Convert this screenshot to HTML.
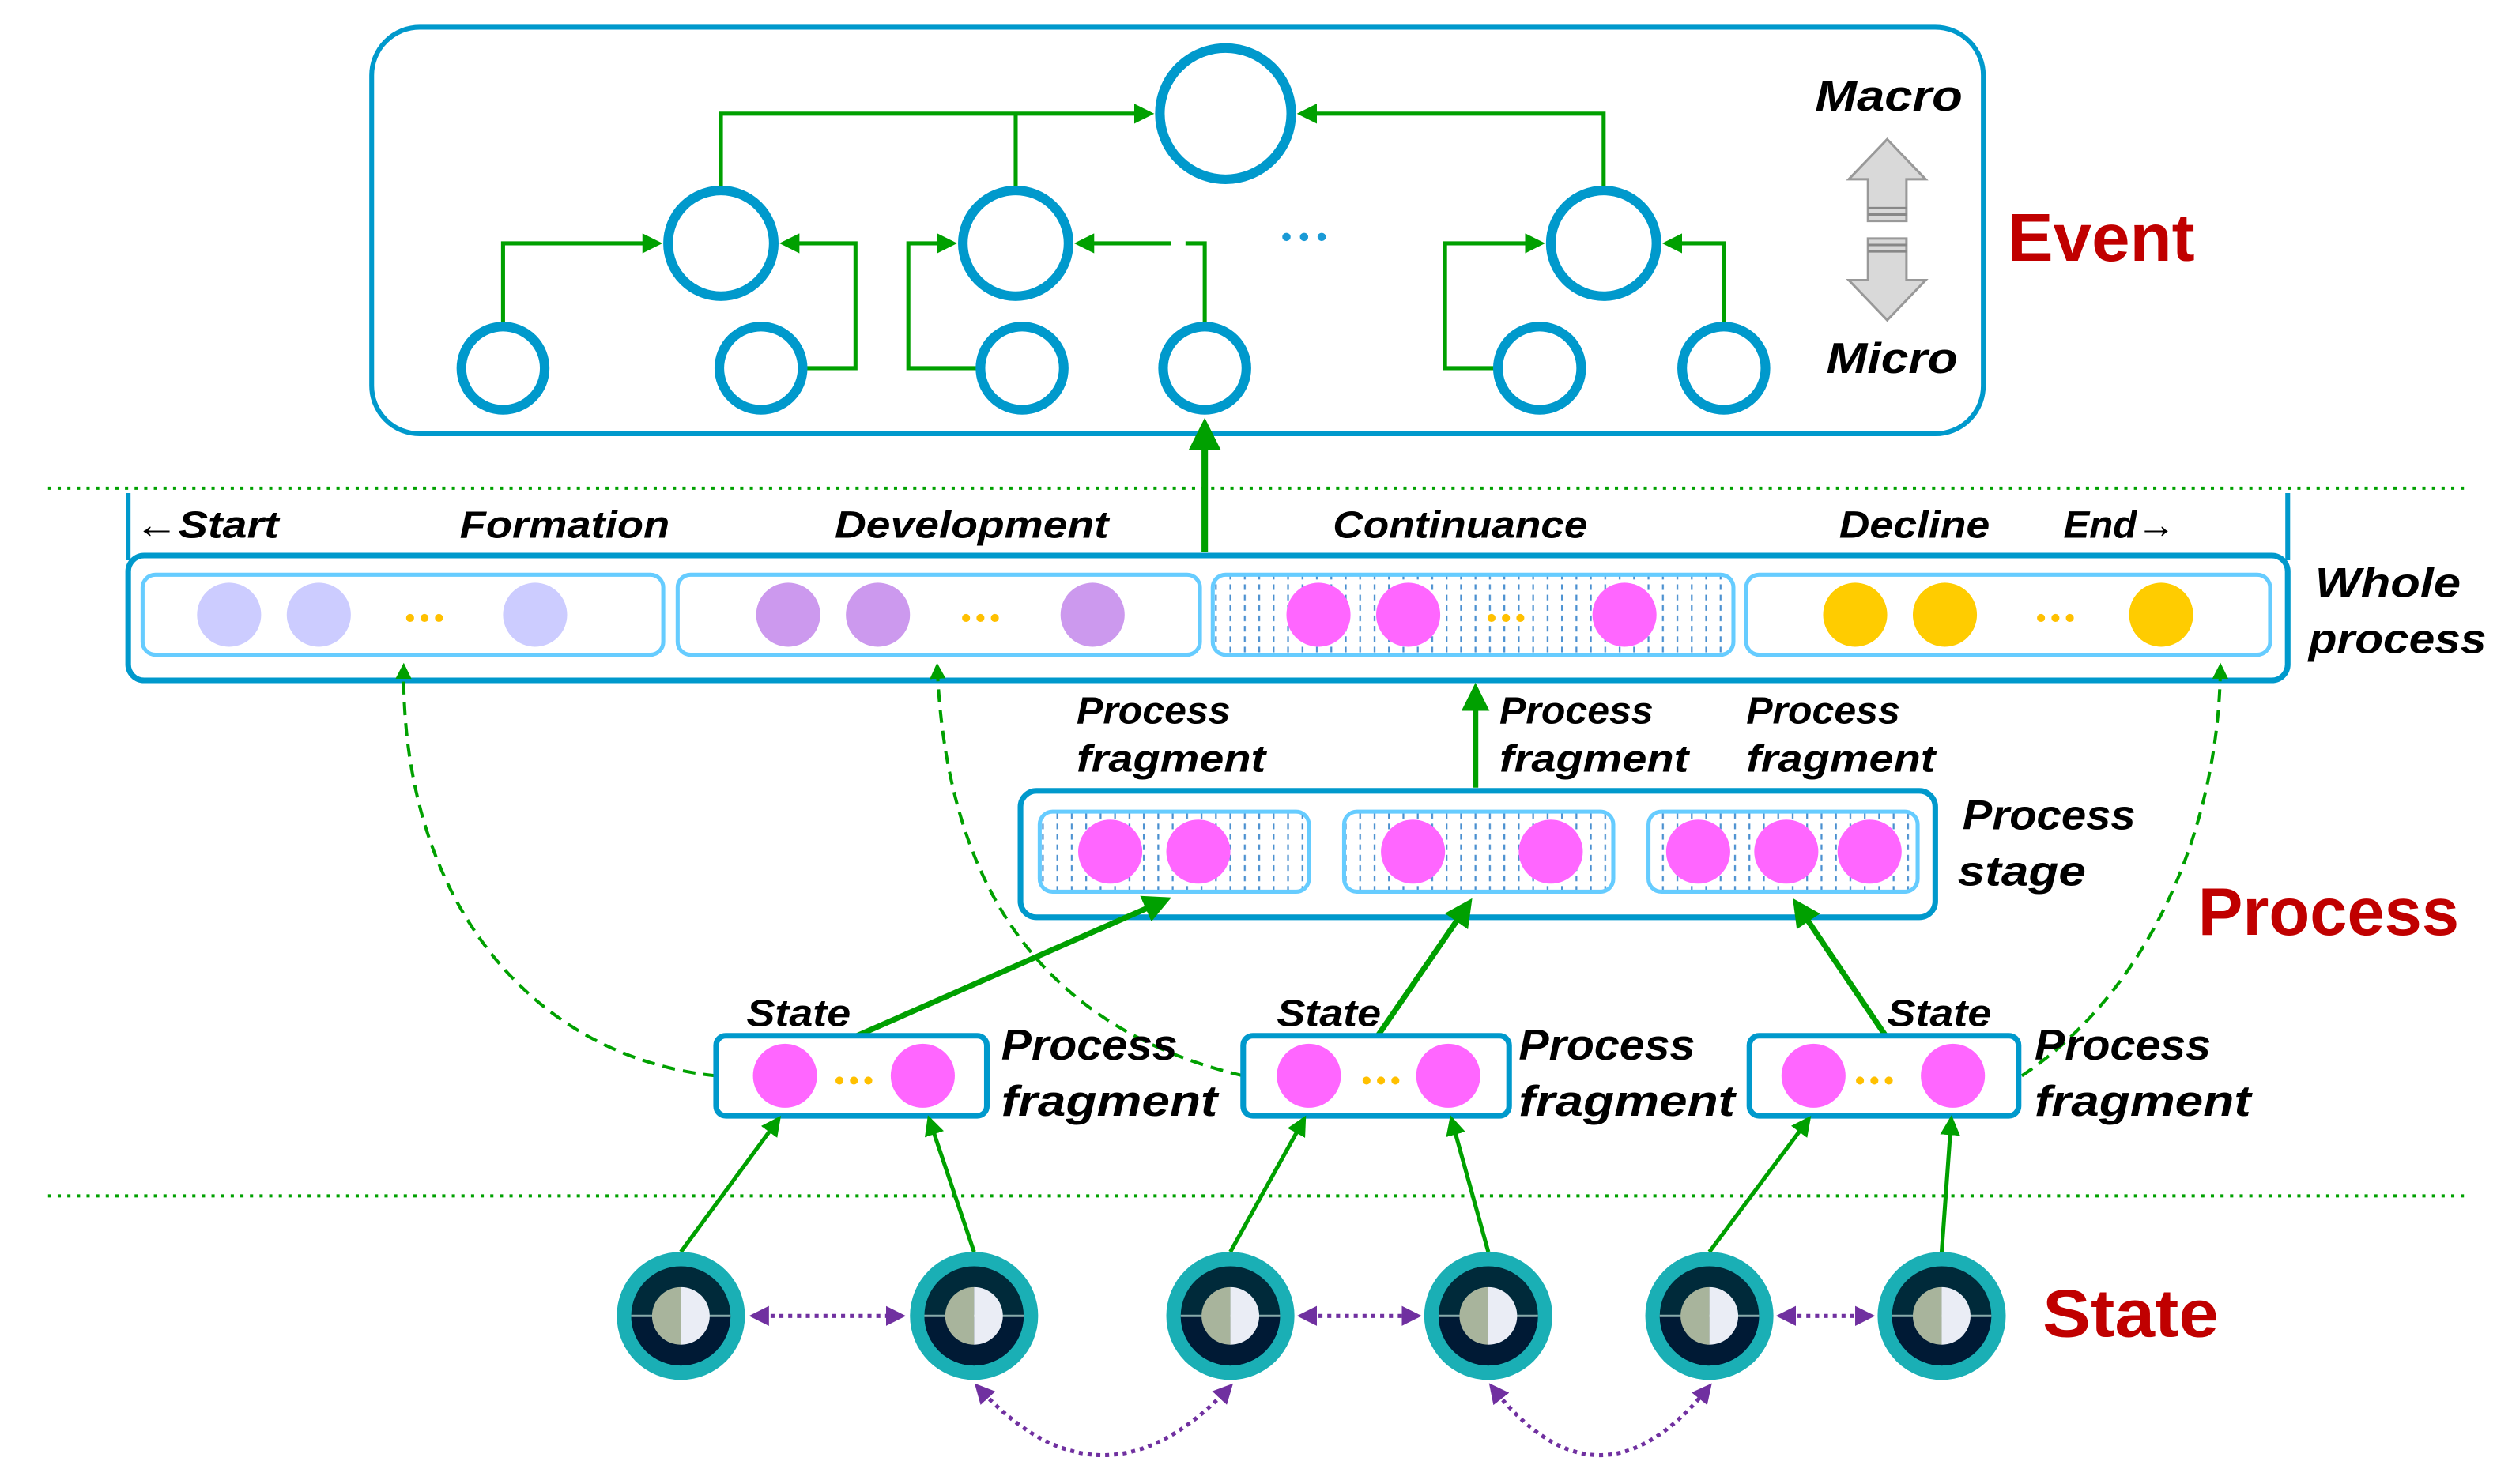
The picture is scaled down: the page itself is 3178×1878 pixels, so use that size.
<!DOCTYPE html>
<html><head><meta charset="utf-8"><style>
html,body{margin:0;padding:0;background:#fff;}
svg{display:block;}
.t{font-family:"Liberation Sans",sans-serif;font-style:italic;font-weight:bold;fill:#000;}
.r{font-family:"Liberation Sans",sans-serif;font-weight:bold;fill:#c00000;}
</style></head><body>
<svg width="3178" height="1878" viewBox="0 0 1568 927" preserveAspectRatio="none" xmlns="http://www.w3.org/2000/svg">
<defs>
<marker id="gb" markerWidth="5" markerHeight="5" refX="4" refY="2.5" orient="auto" markerUnits="strokeWidth"><path d="M0,0 L5,2.5 L0,5 z" fill="#00a000"/></marker>
<marker id="pa" markerWidth="5" markerHeight="5" refX="4" refY="2.5" orient="auto" markerUnits="strokeWidth"><path d="M0,0 L5,2.5 L0,5 z" fill="#7030a0"/></marker>
<marker id="ps" markerWidth="5" markerHeight="5" refX="1" refY="2.5" orient="auto" markerUnits="strokeWidth"><path d="M5,0 L0,2.5 L5,5 z" fill="#7030a0"/></marker>
<pattern id="h" width="9" height="6.5" patternUnits="userSpaceOnUse"><line x1="3" y1="1" x2="3" y2="4.5" stroke="#4a90d0" stroke-width="1.1"/></pattern>
<g id="sc"><circle r="40" fill="#1aafb5"/><circle r="31" fill="#002a3a"/><path d="M-31,0 A31,31 0 0 0 31,0 Z" fill="#001a35"/><line x1="-31" y1="0" x2="31" y2="0" stroke="#8aa" stroke-width="1.5"/><path d="M0,-18 A18,18 0 0 0 0,18 Z" fill="#a8b49c"/><path d="M0,-18 A18,18 0 0 1 0,18 Z" fill="#eaedf5"/></g>
</defs>

<rect x="232" y="17" width="1006" height="254" rx="30" fill="none" stroke="#0099cc" stroke-width="3"/>
<g fill="none" stroke="#00a000" stroke-width="2.5">
<path d="M450,118 V71 H718" marker-end="url(#gb)"/>
<path d="M634,118 V71"/>
<path d="M1001,118 V71 H812" marker-end="url(#gb)"/>
<path d="M314,203 V152 H411" marker-end="url(#gb)"/>
<path d="M502,230 H534 V152 H489" marker-end="url(#gb)"/>
<path d="M611,230 H567 V152 H595" marker-end="url(#gb)"/>
<path d="M752,203 V152 H740 M731,152 H673" marker-end="url(#gb)"/>
<path d="M934,230 H902 V152 H962" marker-end="url(#gb)"/>
<path d="M1076,203 V152 H1040" marker-end="url(#gb)"/>
</g>
<g fill="#fff" stroke="#0099cc" stroke-width="6">
<circle cx="765" cy="71" r="41"/>
<circle cx="450" cy="152" r="33"/><circle cx="634" cy="152" r="33"/><circle cx="1001" cy="152" r="33"/>
<circle cx="314" cy="230" r="26"/><circle cx="475" cy="230" r="26"/><circle cx="638" cy="230" r="26"/><circle cx="752" cy="230" r="26"/><circle cx="961" cy="230" r="26"/><circle cx="1076" cy="230" r="26"/>
</g>
<g fill="#1a9ad6"><circle cx="803" cy="148" r="2.6"/><circle cx="814" cy="148" r="2.6"/><circle cx="825" cy="148" r="2.6"/></g>
<g fill="#d9d9d9" stroke="#999" stroke-width="1.5">
<path d="M1178,87 L1202,112 L1190,112 L1190,138 L1166,138 L1166,112 L1154,112 Z"/>
<path d="M1178,200 L1202,175 L1190,175 L1190,149 L1166,149 L1166,175 L1154,175 Z"/>
</g>
<g stroke="#888" stroke-width="1.5"><line x1="1166" y1="130" x2="1190" y2="130"/><line x1="1166" y1="134" x2="1190" y2="134"/><line x1="1166" y1="153" x2="1190" y2="153"/><line x1="1166" y1="157" x2="1190" y2="157"/></g>
<text class="t" x="1133" y="69" font-size="27" textLength="92" lengthAdjust="spacingAndGlyphs">Macro</text>
<text class="t" x="1140" y="233" font-size="27" textLength="82" lengthAdjust="spacingAndGlyphs">Micro</text>
<text class="r" x="1253" y="163" font-size="42" textLength="117" lengthAdjust="spacingAndGlyphs">Event</text>

<line x1="30" y1="305" x2="1540" y2="305" stroke="#00a000" stroke-width="2" stroke-dasharray="2,4"/>
<line x1="30" y1="747" x2="1540" y2="747" stroke="#00a000" stroke-width="2" stroke-dasharray="2,4"/>

<line x1="752" y1="345" x2="752" y2="265" stroke="#00a000" stroke-width="4" marker-end="url(#gb)"/>
<line x1="80" y1="308" x2="80" y2="350" stroke="#0099cc" stroke-width="3"/>
<line x1="1428" y1="308" x2="1428" y2="350" stroke="#0099cc" stroke-width="3"/>
<rect x="80" y="347" width="1348" height="78" rx="10" fill="none" stroke="#0099cc" stroke-width="3.5"/>
<g class="t" font-size="24" lengthAdjust="spacingAndGlyphs">
<text x="84" y="336" textLength="90" lengthAdjust="spacingAndGlyphs">←Start</text>
<text x="287" y="336" textLength="131" lengthAdjust="spacingAndGlyphs">Formation</text>
<text x="521" y="336" textLength="171" lengthAdjust="spacingAndGlyphs">Development</text>
<text x="832" y="336" textLength="159" lengthAdjust="spacingAndGlyphs">Continuance</text>
<text x="1148" y="336" textLength="94" lengthAdjust="spacingAndGlyphs">Decline</text>
<text x="1288" y="336" textLength="70" lengthAdjust="spacingAndGlyphs">End→</text>
</g>
<g stroke="#66ccff" stroke-width="2.5">
<rect x="89" y="359" width="325" height="50" rx="8" fill="#fff"/>
<rect x="423" y="359" width="326" height="50" rx="8" fill="#fff"/>
<rect x="757" y="359" width="325" height="50" rx="8" fill="url(#h)"/>
<rect x="1090" y="359" width="327" height="50" rx="8" fill="#fff"/>
</g>
<g fill="#ccccff"><circle cx="143" cy="384" r="20"/><circle cx="199" cy="384" r="20"/><circle cx="334" cy="384" r="20"/></g>
<g fill="#cc99ee"><circle cx="492" cy="384" r="20"/><circle cx="548" cy="384" r="20"/><circle cx="682" cy="384" r="20"/></g>
<g fill="#ff66ff"><circle cx="823" cy="384" r="20"/><circle cx="879" cy="384" r="20"/><circle cx="1014" cy="384" r="20"/></g>
<g fill="#ffcc00"><circle cx="1158" cy="384" r="20"/><circle cx="1214" cy="384" r="20"/><circle cx="1349" cy="384" r="20"/></g>
<g fill="#ffc000">
<circle cx="256" cy="386" r="2.5"/><circle cx="265" cy="386" r="2.5"/><circle cx="274" cy="386" r="2.5"/>
<circle cx="603" cy="386" r="2.5"/><circle cx="612" cy="386" r="2.5"/><circle cx="621" cy="386" r="2.5"/>
<circle cx="931" cy="386" r="2.5"/><circle cx="940" cy="386" r="2.5"/><circle cx="949" cy="386" r="2.5"/>
<circle cx="1274" cy="386" r="2.5"/><circle cx="1283" cy="386" r="2.5"/><circle cx="1292" cy="386" r="2.5"/>
</g>
<text class="t" font-size="26" x="1445" y="373" textLength="91" lengthAdjust="spacingAndGlyphs">Whole</text>
<text class="t" font-size="26" x="1441" y="408" textLength="111" lengthAdjust="spacingAndGlyphs">process</text>

<line x1="921" y1="492" x2="921" y2="430" stroke="#00a000" stroke-width="3.5" marker-end="url(#gb)"/>
<g class="t" font-size="24">
<text x="672" y="452" textLength="96" lengthAdjust="spacingAndGlyphs">Process</text><text x="672" y="482" textLength="118" lengthAdjust="spacingAndGlyphs">fragment</text>
<text x="936" y="452" textLength="96" lengthAdjust="spacingAndGlyphs">Process</text><text x="936" y="482" textLength="118" lengthAdjust="spacingAndGlyphs">fragment</text>
<text x="1090" y="452" textLength="96" lengthAdjust="spacingAndGlyphs">Process</text><text x="1090" y="482" textLength="118" lengthAdjust="spacingAndGlyphs">fragment</text>
</g>
<rect x="637" y="494" width="571" height="79" rx="10" fill="none" stroke="#0099cc" stroke-width="3.5"/>
<g stroke="#66ccff" stroke-width="2.5" fill="url(#h)">
<rect x="649" y="507" width="168" height="50" rx="8"/>
<rect x="839" y="507" width="168" height="50" rx="8"/>
<rect x="1029" y="507" width="168" height="50" rx="8"/>
</g>
<g fill="#ff66ff">
<circle cx="693" cy="532" r="20"/><circle cx="748" cy="532" r="20"/><circle cx="882" cy="532" r="20"/><circle cx="968" cy="532" r="20"/>
<circle cx="1060" cy="532" r="20"/><circle cx="1115" cy="532" r="20"/><circle cx="1167" cy="532" r="20"/>
</g>
<text class="t" font-size="26" x="1225" y="518" textLength="108" lengthAdjust="spacingAndGlyphs">Process</text>
<text class="t" font-size="26" x="1222" y="553" textLength="80" lengthAdjust="spacingAndGlyphs">stage</text>
<text class="r" x="1372" y="584" font-size="42" textLength="163" lengthAdjust="spacingAndGlyphs">Process</text>

<g fill="none" stroke="#00a000" stroke-width="2" stroke-dasharray="8,5">
<path d="M447,672 C330,660 250,560 252,416" marker-end="url(#gb)"/>
<path d="M776,672 C640,640 590,540 585,416" marker-end="url(#gb)"/>
<path d="M1262,672 C1340,620 1385,520 1386,416" marker-end="url(#gb)"/>
</g>

<g stroke="#00a000" stroke-width="3.5" fill="none">
<line x1="535" y1="647" x2="728" y2="562" marker-end="url(#gb)"/>
<line x1="860" y1="647" x2="917" y2="564" marker-end="url(#gb)"/>
<line x1="1177" y1="647" x2="1121" y2="564" marker-end="url(#gb)"/>
</g>
<g fill="#fff" stroke="#0099cc" stroke-width="3.5">
<rect x="447" y="647" width="169" height="50" rx="6"/>
<rect x="776" y="647" width="166" height="50" rx="6"/>
<rect x="1092" y="647" width="168" height="50" rx="6"/>
</g>
<g fill="#ff66ff">
<circle cx="490" cy="672" r="20"/><circle cx="576" cy="672" r="20"/><circle cx="817" cy="672" r="20"/><circle cx="904" cy="672" r="20"/><circle cx="1132" cy="672" r="20"/><circle cx="1219" cy="672" r="20"/>
</g>
<g fill="#ffc000">
<circle cx="524" cy="675" r="2.5"/><circle cx="533" cy="675" r="2.5"/><circle cx="542" cy="675" r="2.5"/>
<circle cx="853" cy="675" r="2.5"/><circle cx="862" cy="675" r="2.5"/><circle cx="871" cy="675" r="2.5"/>
<circle cx="1161" cy="675" r="2.5"/><circle cx="1170" cy="675" r="2.5"/><circle cx="1179" cy="675" r="2.5"/>
</g>
<g class="t" font-size="24">
<text x="466" y="641" textLength="65" lengthAdjust="spacingAndGlyphs">State</text>
<text x="797" y="641" textLength="65" lengthAdjust="spacingAndGlyphs">State</text>
<text x="1178" y="641" textLength="65" lengthAdjust="spacingAndGlyphs">State</text>
</g>
<g class="t" font-size="27">
<text x="625" y="662" textLength="110" lengthAdjust="spacingAndGlyphs">Process</text><text x="625" y="697" textLength="135" lengthAdjust="spacingAndGlyphs">fragment</text>
<text x="948" y="662" textLength="110" lengthAdjust="spacingAndGlyphs">Process</text><text x="948" y="697" textLength="135" lengthAdjust="spacingAndGlyphs">fragment</text>
<text x="1270" y="662" textLength="110" lengthAdjust="spacingAndGlyphs">Process</text><text x="1270" y="697" textLength="135" lengthAdjust="spacingAndGlyphs">fragment</text>
</g>

<g stroke="#00a000" stroke-width="2.5">
<line x1="425" y1="782" x2="486" y2="699" marker-end="url(#gb)"/>
<line x1="608" y1="782" x2="580" y2="699" marker-end="url(#gb)"/>
<line x1="768" y1="782" x2="814" y2="699" marker-end="url(#gb)"/>
<line x1="929" y1="782" x2="906" y2="699" marker-end="url(#gb)"/>
<line x1="1067" y1="782" x2="1129" y2="699" marker-end="url(#gb)"/>
<line x1="1212" y1="782" x2="1218" y2="699" marker-end="url(#gb)"/>
</g>
<use href="#sc" x="425" y="822"/><use href="#sc" x="608" y="822"/><use href="#sc" x="768" y="822"/>
<use href="#sc" x="929" y="822"/><use href="#sc" x="1067" y="822"/><use href="#sc" x="1212" y="822"/>
<g fill="none" stroke="#7030a0" stroke-width="2.5" stroke-dasharray="2.5,3">
<line x1="470" y1="822" x2="563" y2="822" marker-start="url(#ps)" marker-end="url(#pa)"/>
<line x1="812" y1="822" x2="885" y2="822" marker-start="url(#ps)" marker-end="url(#pa)"/>
<line x1="1111" y1="822" x2="1168" y2="822" marker-start="url(#ps)" marker-end="url(#pa)"/>
<path d="M610,866 Q688,952 768,866" marker-start="url(#ps)" marker-end="url(#pa)"/>
<path d="M931,866 Q998,952 1067,866" marker-start="url(#ps)" marker-end="url(#pa)"/>
</g>
<text class="r" x="1275" y="835" font-size="42" textLength="110" lengthAdjust="spacingAndGlyphs">State</text>
</svg>
</body></html>
